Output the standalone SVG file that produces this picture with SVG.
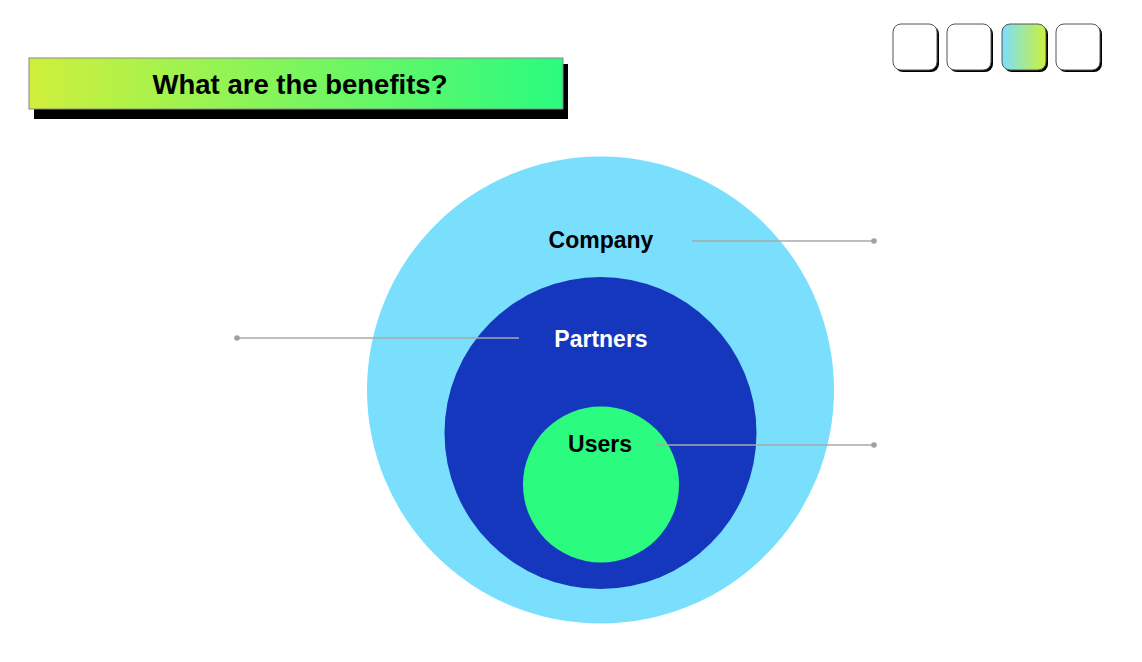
<svg xmlns="http://www.w3.org/2000/svg" width="1142" height="662" viewBox="0 0 1142 662">
<defs>
<linearGradient id="titleGrad" x1="0" y1="0" x2="1" y2="0">
<stop offset="0" stop-color="#d0ef3b"/>
<stop offset="1" stop-color="#2afb7f"/>
</linearGradient>
<linearGradient id="navGrad" x1="0" y1="0" x2="1" y2="0">
<stop offset="0" stop-color="#79dffd"/>
<stop offset="1" stop-color="#cdf03a"/>
</linearGradient>
<style>
.lbl{font-family:"Liberation Sans",Arial,sans-serif;font-weight:bold;font-size:23px;text-anchor:middle}
.conn{stroke:#a8a8a8;stroke-width:1.5;fill:none}
.dot{fill:#a0a0a0}
.nav{stroke:#555;stroke-width:1;}
.navsh{fill:#000}
</style>
</defs>
<rect width="1142" height="662" fill="#fff"/>
<g id="title">
<rect x="34" y="64" width="534" height="55" fill="#000"/>
<rect x="29" y="58" width="534" height="51" fill="url(#titleGrad)" stroke="#888" stroke-width="1"/>
<text x="300" y="94" font-family="'Liberation Sans',Arial,sans-serif" font-weight="bold" font-size="27.5" text-anchor="middle" fill="#000">What are the benefits?</text>
</g>
<g id="nav">
<rect x="895" y="26" width="44" height="46" rx="8" class="navsh"/>
<rect x="893" y="24" width="44" height="46" rx="8" fill="#fff" class="nav"/>
<rect x="949" y="26" width="44" height="46" rx="8" class="navsh"/>
<rect x="947" y="24" width="44" height="46" rx="8" fill="#fff" class="nav"/>
<rect x="1004" y="26" width="44" height="46" rx="8" class="navsh"/>
<rect x="1002" y="24" width="44" height="46" rx="8" fill="url(#navGrad)" class="nav"/>
<rect x="1058" y="26" width="44" height="46" rx="8" class="navsh"/>
<rect x="1056" y="24" width="44" height="46" rx="8" fill="#fff" class="nav"/>
</g>
<g id="company">
<circle cx="600.5" cy="390" r="233.5" fill="#79dffd"/>
<text x="601" y="248" class="lbl" fill="#000">Company</text>
</g>
<g id="partners">
<circle cx="600.5" cy="433" r="156" fill="#1537be"/>
<text x="601" y="347" class="lbl" fill="#fff">Partners</text>
</g>
<g id="users">
<circle cx="601" cy="484.5" r="78" fill="#2bfb7e"/>
<text x="600" y="452" class="lbl" fill="#000">Users</text>
</g>
<g id="connectors">
<line x1="692" y1="241" x2="874" y2="241" class="conn"/>
<circle cx="874" cy="241" r="2.8" class="dot"/>
<line x1="237" y1="338" x2="519" y2="338" class="conn"/>
<circle cx="237" cy="338" r="2.8" class="dot"/>
<line x1="655" y1="445" x2="874" y2="445" class="conn"/>
<circle cx="874" cy="445" r="2.8" class="dot"/>
</g>
</svg>
